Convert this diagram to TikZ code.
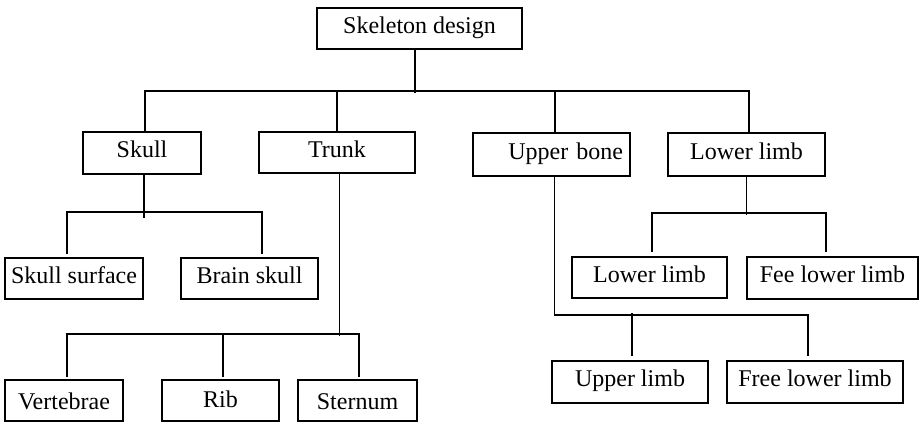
\documentclass[tikz,border=0pt]{standalone}
\usepackage{fontspec}
\setmainfont{Liberation Serif}

\tikzset{
  box/.style={draw, line width=0.9pt, inner xsep=2pt, inner ysep=0pt,
    minimum height=20.5pt, font=\fontsize{12pt}{14pt}\selectfont,
    text height=8.2pt, text depth=3.6pt},
  lowtext/.style={text height=12pt, text depth=3pt},
  link/.style={line width=0.75pt},
}

\begin{document}
\begin{tikzpicture}[x=0.5pt,y=-0.5pt]
    \useasboundingbox (0,0) rectangle (924,424);

    % Root
    \node[box, minimum width=102.5pt] (root) at (419.5,28.5) {Skeleton design};

    % First level
    \node[box, minimum width=59pt, minimum height=21pt] (skull) at (142,153) {Skull};
    \node[box, minimum width=78pt] (trunk) at (337,152.5) {Trunk};
    \node[box, minimum height=21.5pt, text width=71.5pt, align=right, inner xsep=3.5pt] (upbone) at (551.5,154.5) {Upper bone};
    \node[box, minimum width=78.5pt, minimum height=21.5pt] (lowlimb) at (746.5,154.5) {Lower limb};

    % Skull parts
    \node[box, minimum width=69pt] (skullsurf) at (74,278.5) {Skull surface};
    \node[box, minimum width=68.5pt] (brain) at (249.5,278.5) {Brain skull};

    % Trunk parts
    \node[box, lowtext, minimum width=59pt] (vert) at (64,400.5) {Vertebrae};
    \node[box, text height=10pt, text depth=3.5pt, minimum width=58.5pt] (rib) at (220.5,400.5) {Rib};
    \node[box, lowtext, minimum width=59.5pt] (sternum) at (357.5,400.5) {Sternum};

    % Limbs
    \node[box, minimum width=77.5pt] (lowlimb2) at (649.5,277.5) {Lower limb};
    \node[box, minimum width=85.5pt, minimum height=21pt] (feelow) at (832.5,278) {Fee lower limb};
    \node[box, minimum width=78pt, minimum height=21pt] (uplimb) at (630,382) {Upper limb};
    \node[box, minimum width=88pt, minimum height=21pt] (freelow) at (815,382) {Free lower limb};

    % Root to first level
    \draw[link] ([xshift=-2.25pt]root.south) -- ++(0,43);
    \draw[link] ([xshift=1.5pt]skull.north) -- ++(0,-40) -| ([xshift=1.25pt]lowlimb.north);
    \draw[link] (trunk.north) -- ++(0,-40);
    \draw[link] ([xshift=1.75pt]upbone.north) -- ++(0,-41);

    % Skull branch
    \draw[link] ([xshift=1pt]skull.south) -- ++(0,43);
    \draw[link] ([xshift=-3.5pt,yshift=1.5pt]skullsurf.north) -- ++(0,-42) -| ([xshift=6.25pt,yshift=1.5pt]brain.north);

    % Trunk branch
    \draw[link] ([xshift=1.25pt]trunk.south) -- ++(0,162);
    \draw[link] ([xshift=1.5pt,yshift=1pt]vert.north) -- ++(0,-43) -| ([xshift=0.75pt,yshift=1pt]sternum.north);
    \draw[link] ([xshift=1.25pt,yshift=1pt]rib.north) -- ++(0,-43);

    % Upper bone branch
    \draw[link] ([xshift=1.5pt]upbone.south) -- ++(0,138) -| ([xshift=-3.5pt,yshift=2pt]freelow.north);
    \draw[link] ([xshift=1pt,yshift=2pt]uplimb.north) -- ++(0,-43);

    % Lower limb branch
    \draw[link] (lowlimb.south) -- ++(0,38);
    \draw[link] ([xshift=1.25pt,yshift=2pt]lowlimb2.north) -- ++(0,-39) -| ([xshift=-3.25pt,yshift=2pt]feelow.north);
\end{tikzpicture}
\end{document}
